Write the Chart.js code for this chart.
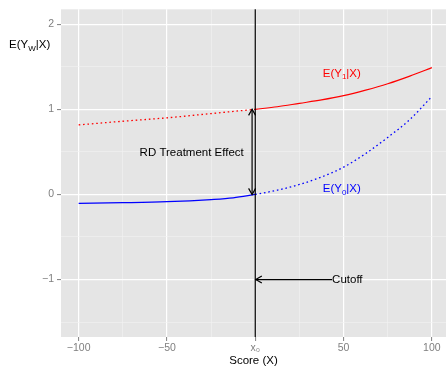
<!DOCTYPE html>
<html>
<head>
<meta charset="utf-8">
<script src="https://cdn.jsdelivr.net/npm/chart.js@4.4.1/dist/chart.umd.min.js"></script>
<style>
  html, body { margin: 0; padding: 0; background: #fff; }
</style>
</head>
<body>
<canvas id="rdChart" width="446" height="368"></canvas>
<script>
// score grid on each side of the cutoff
const xLeft  = [-100, -75, -50, -25, -12.5, 0];
const xRight = [0, 12.5, 25, 37.5, 50, 62.5, 75, 87.5, 100];

// E(Y1|X): dotted (not observed) below cutoff, solid above
const y1Left  = [0.817, 0.86, 0.90, 0.95, 0.975, 1.0];
const y1Right = [1.0, 1.03, 1.07, 1.11, 1.16, 1.225, 1.30, 1.39, 1.49];

// E(Y0|X): solid below cutoff, dotted above
const y0Left  = [-0.105, -0.097, -0.085, -0.06, -0.04, 0];
const y0Right = [0, 0.05, 0.117, 0.205, 0.32, 0.48, 0.67, 0.88, 1.15];

const cutoff = 0;
const xTicks = [-100, -75, -50, -25, 0, 25, 50, 75, 100];
const xLabels = { "-100": "\u2212100", "-50": "\u221250", "0": "x\u2080", "50": "50", "100": "100" };
const yTicks = [-1.5, -1, -0.5, 0, 0.5, 1, 1.5, 2];
const yLabels = { "-1": "\u22121", "0": "0", "1": "1", "2": "2" };

const FONT = "'Liberation Sans', Arial, sans-serif";
const GREY = "#7F7F7F";

function pts(xs, ys) {
  return xs.map((v, i) => ({ x: v, y: ys[i] }));
}

function seg(ctx, x1, y1, x2, y2) {
  ctx.beginPath();
  ctx.moveTo(x1, y1);
  ctx.lineTo(x2, y2);
  ctx.stroke();
}

// open "V" arrow head pointing at (tx, ty), coming from (fx, fy)
function head(ctx, fx, fy, tx, ty) {
  const len = 7, ang = Math.PI / 6;
  const t = Math.atan2(ty - fy, tx - fx);
  ctx.beginPath();
  ctx.moveTo(tx - len * Math.cos(t - ang), ty - len * Math.sin(t - ang));
  ctx.lineTo(tx, ty);
  ctx.lineTo(tx - len * Math.cos(t + ang), ty - len * Math.sin(t + ang));
  ctx.stroke();
}

// text with one subscript part, e.g. E(Y1|X)
function subText(ctx, parts, x, y, align, color) {
  const big = "11.5px " + FONT, small = "8px " + FONT;
  let w = 0;
  parts.forEach(p => { ctx.font = p.sub ? small : big; w += ctx.measureText(p.t).width; });
  let cx = align === "center" ? x - w / 2 : x;
  ctx.fillStyle = color;
  ctx.textAlign = "left";
  ctx.textBaseline = "middle";
  parts.forEach(p => {
    ctx.font = p.sub ? small : big;
    ctx.fillText(p.t, cx, p.sub ? y + 3.5 : y);
    cx += ctx.measureText(p.t).width;
  });
}

const rdDecor = {
  id: "rdDecor",
  beforeDraw(chart) {
    const { ctx, chartArea: a } = chart;
    ctx.save();
    ctx.fillStyle = "#E5E5E5";
    ctx.fillRect(a.left, a.top, a.right - a.left, a.bottom - a.top);
    ctx.restore();
  },
  afterDatasetsDraw(chart) {
    const { ctx, chartArea: a, scales: { x, y } } = chart;
    ctx.save();
    ctx.strokeStyle = "#000";
    ctx.lineWidth = 1.2;
    ctx.lineCap = "butt";

    // cutoff line
    const xc = x.getPixelForValue(cutoff);
    seg(ctx, xc, a.top, xc, a.bottom);

    // treatment effect: double arrow between the two curves at the cutoff
    const xa = x.getPixelForValue(-1.8);
    const yTop = y.getPixelForValue(y1Right[0]);
    const yBot = y.getPixelForValue(y0Left[y0Left.length - 1]);
    seg(ctx, xa, yTop, xa, yBot);
    head(ctx, xa, yBot, xa, yTop);
    head(ctx, xa, yTop, xa, yBot);

    // cutoff pointer
    const xs = x.getPixelForValue(43.5), ym = y.getPixelForValue(-1);
    seg(ctx, xs, ym, xc + 0.5, ym);
    head(ctx, xs, ym, xc + 0.5, ym);

    ctx.font = "11.5px " + FONT;
    ctx.fillStyle = "#000";
    ctx.textBaseline = "middle";
    ctx.textAlign = "center";
    ctx.fillText("RD Treatment Effect", x.getPixelForValue(-36), y.getPixelForValue(0.49));
    ctx.textAlign = "left";
    ctx.fillText("Cutoff", xs, ym);

    subText(ctx, [{ t: "E(Y" }, { t: "1", sub: true }, { t: "|X)" }],
      x.getPixelForValue(49), y.getPixelForValue(1.42), "center", "#FF0000");
    subText(ctx, [{ t: "E(Y" }, { t: "0", sub: true }, { t: "|X)" }],
      x.getPixelForValue(49), y.getPixelForValue(0.06), "center", "#0000FF");
    ctx.restore();
  },
  afterDraw(chart) {
    const { ctx } = chart;
    ctx.save();
    // horizontal y-axis title
    subText(ctx, [{ t: "E(Y" }, { t: "W", sub: true }, { t: "|X)" }], 9, 45, "left", "#000");
    ctx.restore();
  }
};

const solid = { borderWidth: 1.2, pointRadius: 0, fill: false, cubicInterpolationMode: "monotone" };
const dotted = Object.assign({}, solid, { borderWidth: 1.3, borderDash: [1.6, 2.8], borderCapStyle: "butt" });

new Chart(document.getElementById("rdChart").getContext("2d"), {
  type: "line",
  data: {
    datasets: [
      Object.assign({ label: "E(Y1|X) below", data: pts(xLeft, y1Left), borderColor: "#FF0000" }, dotted),
      Object.assign({ label: "E(Y1|X)", data: pts(xRight, y1Right), borderColor: "#FF0000" }, solid),
      Object.assign({ label: "E(Y0|X)", data: pts(xLeft, y0Left), borderColor: "#0000FF" }, solid),
      Object.assign({ label: "E(Y0|X) above", data: pts(xRight, y0Right), borderColor: "#0000FF" }, dotted)
    ]
  },
  options: {
    responsive: false,
    animation: false,
    layout: { padding: { top: 8, right: 0, bottom: 0, left: 0 } },
    plugins: { legend: { display: false }, tooltip: { enabled: false } },
    scales: {
      x: {
        type: "linear",
        min: -110,
        max: 108,
        afterBuildTicks: s => { s.ticks = xTicks.map(v => ({ value: v })); },
        afterFit: s => { s.height = 31; },
        border: { display: false },
        grid: {
          color: c => (c.tick && c.tick.value % 50 === 0) ? "#FFFFFF" : "#F2F2F2",
          lineWidth: c => (c.tick && c.tick.value % 50 === 0) ? 1.2 : 0.6,
          tickColor: c => (c.tick && c.tick.value % 50 === 0) ? GREY : "rgba(0,0,0,0)",
          tickLength: 4,
          tickWidth: 1
        },
        ticks: {
          autoSkip: false,
          maxRotation: 0,
          padding: 1,
          color: GREY,
          font: { family: FONT, size: 10.5 },
          callback: v => xLabels[String(v)] || ""
        },
        title: {
          display: true,
          text: "Score (X)",
          color: "#000",
          font: { family: FONT, size: 11.5 },
          padding: { top: 0, bottom: 0 }
        }
      },
      y: {
        type: "linear",
        min: -1.675,
        max: 2.175,
        afterBuildTicks: s => { s.ticks = yTicks.map(v => ({ value: v })); },
        afterFit: s => { s.width = 61; },
        border: { display: false },
        grid: {
          color: c => (c.tick && Number.isInteger(c.tick.value)) ? "#FFFFFF" : "#F2F2F2",
          lineWidth: c => (c.tick && Number.isInteger(c.tick.value)) ? 1.2 : 0.6,
          tickColor: c => (c.tick && Number.isInteger(c.tick.value)) ? GREY : "rgba(0,0,0,0)",
          tickLength: 4,
          tickWidth: 1
        },
        ticks: {
          autoSkip: false,
          padding: 3,
          color: GREY,
          font: { family: FONT, size: 10.5 },
          callback: v => yLabels[String(v)] || ""
        }
      }
    }
  },
  plugins: [rdDecor]
});
</script>
</body>
</html>
